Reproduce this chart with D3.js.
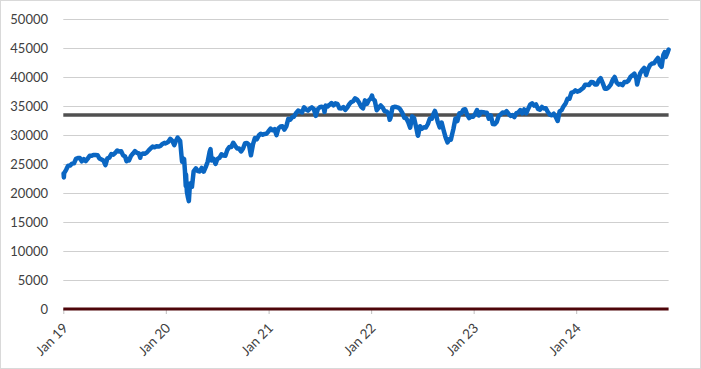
<!DOCTYPE html>
<html>
<head>
<meta charset="utf-8">
<script src="https://cdn.jsdelivr.net/npm/d3@7"></script>
<style>
  html, body { margin: 0; padding: 0; background: #fff; }
  svg { display: block; }
  text { font-family: Lato, "Liberation Sans", sans-serif; fill: #404040; }
</style>
</head>
<body>
<svg id="chart" width="701" height="369"></svg>
<script>
// ---- DATA ----
const dates = [
"2019-01-02","2019-01-03","2019-01-04","2019-01-11","2019-01-18","2019-01-25","2019-02-01","2019-02-08","2019-02-15","2019-02-22",
"2019-03-01","2019-03-08","2019-03-15","2019-03-22","2019-03-29","2019-04-05","2019-04-12","2019-04-18","2019-04-26","2019-05-03",
"2019-05-10","2019-05-17","2019-05-24","2019-05-31","2019-06-07","2019-06-14","2019-06-21","2019-06-28","2019-07-05","2019-07-12",
"2019-07-19","2019-07-26","2019-08-02","2019-08-09","2019-08-14","2019-08-16","2019-08-23","2019-08-30","2019-09-06","2019-09-13",
"2019-09-20","2019-09-27","2019-10-02","2019-10-04","2019-10-11","2019-10-18","2019-10-25","2019-11-01","2019-11-08","2019-11-15",
"2019-11-22","2019-11-29","2019-12-06","2019-12-13","2019-12-20","2019-12-27","2019-12-31",
"2020-01-03","2020-01-10","2020-01-17","2020-01-24","2020-01-31","2020-02-07","2020-02-12","2020-02-14","2020-02-21","2020-02-27",
"2020-02-28","2020-03-06","2020-03-09","2020-03-12","2020-03-13","2020-03-16","2020-03-20","2020-03-23","2020-03-27","2020-04-03",
"2020-04-09","2020-04-17","2020-04-24","2020-05-01","2020-05-08","2020-05-15","2020-05-22","2020-05-29","2020-06-05","2020-06-08",
"2020-06-12","2020-06-19","2020-06-26","2020-07-02","2020-07-10","2020-07-17","2020-07-24","2020-07-31","2020-08-07","2020-08-14",
"2020-08-21","2020-08-28","2020-09-04","2020-09-11","2020-09-18","2020-09-25","2020-10-02","2020-10-09","2020-10-16","2020-10-23",
"2020-10-30","2020-11-06","2020-11-13","2020-11-20","2020-11-27","2020-12-04","2020-12-11","2020-12-18","2020-12-24","2020-12-31",
"2021-01-08","2021-01-15","2021-01-22","2021-01-29","2021-02-05","2021-02-12","2021-02-19","2021-02-26","2021-03-05","2021-03-12",
"2021-03-19","2021-03-26","2021-04-01","2021-04-09","2021-04-16","2021-04-23","2021-04-30","2021-05-07","2021-05-14","2021-05-21",
"2021-05-28","2021-06-04","2021-06-11","2021-06-18","2021-06-25","2021-07-02","2021-07-09","2021-07-16","2021-07-19","2021-07-23",
"2021-07-30","2021-08-06","2021-08-13","2021-08-20","2021-08-27","2021-09-03","2021-09-10","2021-09-17","2021-09-24","2021-10-01",
"2021-10-08","2021-10-15","2021-10-22","2021-10-29","2021-11-05","2021-11-12","2021-11-19","2021-11-26","2021-12-03","2021-12-10",
"2021-12-17","2021-12-23","2021-12-31",
"2022-01-04","2022-01-07","2022-01-14","2022-01-21","2022-01-28","2022-02-04","2022-02-11","2022-02-18","2022-02-25","2022-03-04",
"2022-03-08","2022-03-11","2022-03-18","2022-03-25","2022-04-01","2022-04-08","2022-04-14","2022-04-22","2022-04-29","2022-05-06",
"2022-05-13","2022-05-20","2022-05-27","2022-06-03","2022-06-10","2022-06-16","2022-06-17","2022-06-24","2022-07-01","2022-07-08",
"2022-07-15","2022-07-22","2022-07-29","2022-08-05","2022-08-12","2022-08-16","2022-08-19","2022-08-26","2022-09-02","2022-09-09",
"2022-09-16","2022-09-23","2022-09-30","2022-10-07","2022-10-12","2022-10-14","2022-10-21","2022-10-28","2022-11-04","2022-11-11",
"2022-11-18","2022-11-25","2022-12-02","2022-12-09","2022-12-16","2022-12-23","2022-12-30",
"2023-01-06","2023-01-13","2023-01-20","2023-01-27","2023-02-03","2023-02-10","2023-02-17","2023-02-24","2023-03-03","2023-03-10",
"2023-03-17","2023-03-24","2023-03-31","2023-04-06","2023-04-14","2023-04-21","2023-04-28","2023-05-05","2023-05-12","2023-05-19",
"2023-05-26","2023-06-02","2023-06-09","2023-06-16","2023-06-23","2023-06-30","2023-07-07","2023-07-14","2023-07-21","2023-07-28",
"2023-08-04","2023-08-11","2023-08-18","2023-08-25","2023-09-01","2023-09-08","2023-09-15","2023-09-22","2023-09-29","2023-10-06",
"2023-10-13","2023-10-20","2023-10-27","2023-11-03","2023-11-10","2023-11-17","2023-11-24","2023-12-01","2023-12-08","2023-12-15",
"2023-12-22","2023-12-29",
"2024-01-05","2024-01-12","2024-01-19","2024-01-26","2024-02-02","2024-02-09","2024-02-16","2024-02-23","2024-03-01","2024-03-08",
"2024-03-15","2024-03-22","2024-03-28","2024-04-05","2024-04-12","2024-04-19","2024-04-26","2024-05-03","2024-05-10","2024-05-17",
"2024-05-24","2024-05-31","2024-06-07","2024-06-14","2024-06-21","2024-06-28","2024-07-05","2024-07-12","2024-07-19","2024-07-26",
"2024-08-02","2024-08-05","2024-08-09","2024-08-16","2024-08-23","2024-08-30","2024-09-06","2024-09-13","2024-09-20","2024-09-27",
"2024-10-04","2024-10-11","2024-10-18","2024-10-25","2024-10-31","2024-11-01","2024-11-06","2024-11-08","2024-11-11","2024-11-15",
"2024-11-22","2024-11-25"
];
const values = [
23346,22686,23433,23996,24706,24737,25064,25106,25883,26031,
26026,25450,25849,25502,25929,26425,26412,26559,26543,26505,
25942,25764,25586,24815,25984,26090,26719,26600,26922,27332,
27154,27192,26485,26287,25479,25886,25629,26403,26797,27220,
26935,26820,26078,26573,26817,26770,26958,27347,27681,28005,
27876,28051,28015,28135,28455,28645,28538,
28634,28824,29348,28990,28256,29103,29551,29398,28992,25767,
25409,25865,23851,21200,23186,20189,19174,18592,21637,21053,
23719,24242,23775,23724,24331,23685,24465,25383,27111,27572,
25606,25871,25016,25827,26075,26672,26470,26428,27433,27931,
27930,28654,28133,27666,27657,27174,27683,28587,28606,28336,
26502,28323,29480,29263,29910,30218,30046,30179,30200,30606,
31098,30814,30997,29983,31148,31458,31494,30932,31496,32779,
32628,33072,33153,33801,34200,34043,33875,34778,34382,34208,
34529,34756,34480,33290,34434,34786,34870,34688,33962,35061,
34935,35208,35515,35120,35455,35369,34607,34584,34798,34326,
34746,35294,35677,35820,36328,36100,35602,34899,34580,35971,
35365,35950,36338,
36799,36231,35912,34265,34725,35089,34738,34079,34059,33614,
32632,32945,34754,34861,34818,34721,34451,33811,32977,32899,
32197,31262,33213,32900,31393,29927,29888,31501,31097,31338,
31289,31899,32845,32803,33761,34152,33707,32283,31318,32152,
30822,29590,28726,29297,29210,29635,31083,32861,32403,33748,
33746,34347,34430,33477,32920,33204,33147,
33631,34303,33375,33978,33926,33869,33827,32817,33391,31910,
31862,32238,33274,33485,33886,33809,34098,33674,33300,33427,
33093,33763,33877,34299,33727,34408,33734,34509,35228,35459,
35066,35281,34501,34347,34838,34577,34618,33964,33508,33408,
33670,33127,32418,34061,34283,34947,35390,36246,36248,37306,
37386,37690,
37466,37593,37863,38109,38654,38672,38628,39131,39087,38723,
38715,39476,39807,38904,37983,37986,38240,38676,39513,40004,
39070,38686,38799,38589,39150,39119,39376,40001,40288,40589,
39737,38703,39497,40660,41175,41563,40345,41394,42063,42313,
42353,42864,43276,42114,41763,42053,43729,43989,44293,43445,
44297,44736
];
const yTicks = [0,5000,10000,15000,20000,25000,30000,35000,40000,45000,50000];
const xTickLabels = ["Jan 19","Jan 20","Jan 21","Jan 22","Jan 23","Jan 24"];
const xTickDates = ["2019-01-01","2020-01-01","2021-01-01","2022-01-01","2023-01-01","2024-01-01"];
const refLevel = [33450];
const zeroLevel = [0];
const axisStart = "2019-01-01";

// ---- CHART ----
(function () {
const parse = d3.timeParse("%Y-%m-%d");
const data = dates.map((d, i) => ({date: parse(d), value: values[i]}));
const svg = d3.select("#chart");

const pLeft = 63.3, pRight = 668.6, pTop = 19, pBottom = 309;

const x = d3.scaleTime()
  .domain([parse(axisStart), data[data.length - 1].date])
  .range([pLeft, pRight]);
const y = d3.scaleLinear().domain([0, 50000]).range([pBottom, pTop]);

// chart border
svg.append("rect").attr("x", 0.5).attr("y", 0.5).attr("width", 700).attr("height", 368)
  .attr("fill", "#fff").attr("stroke", "#d9d9d9");

// gridlines
svg.append("g").selectAll("line").data(yTicks.filter(t => t !== 0)).join("line")
  .attr("x1", pLeft).attr("x2", pRight)
  .attr("y1", d => Math.round(y(d)) + 0.5).attr("y2", d => Math.round(y(d)) + 0.5)
  .attr("stroke", "#cfcfcf").attr("stroke-width", 1);

// y axis labels
const yAxis = d3.axisLeft(y).tickValues(yTicks).tickSize(0).tickPadding(0).tickFormat(d3.format("d"));
const gy = svg.append("g").attr("transform", `translate(${48},0)`).call(yAxis);
gy.select(".domain").remove();
gy.selectAll("text").style("font-size", "13px").attr("fill", "#404040").attr("dy", "0.35em");

// x axis ticks and labels
const xAxis = d3.axisBottom(x)
  .tickValues(xTickDates.map(parse))
  .tickSize(5).tickPadding(0)
  .tickFormat((d, i) => xTickLabels[i]);
const gx = svg.append("g").attr("transform", `translate(0,${pBottom})`).call(xAxis);
gx.select(".domain").remove();
gx.selectAll(".tick line").attr("stroke", "#bfbfbf");
gx.selectAll("text")
  .style("font-size", "13.5px").attr("fill", "#404040")
  .attr("text-anchor", "end")
  .attr("x", 0).attr("y", 0).attr("dy", 0)
  .attr("transform", "translate(5,20) rotate(-45)");

// zero line (dark red)
svg.append("g").selectAll("line").data(zeroLevel).join("line")
  .attr("x1", pLeft).attr("x2", pRight)
  .attr("y1", d => y(d)).attr("y2", d => y(d))
  .attr("stroke", "#4e0509").attr("stroke-width", 3);

// reference level line (gray)
svg.append("g").selectAll("line").data(refLevel).join("line")
  .attr("x1", pLeft).attr("x2", pRight)
  .attr("y1", d => y(d)).attr("y2", d => y(d))
  .attr("stroke", "#505050").attr("stroke-width", 3.5);

// series line
const line = d3.line().x(d => x(d.date)).y(d => y(d.value));
svg.append("path").datum(data)
  .attr("d", line)
  .attr("fill", "none")
  .attr("stroke", "#0a66c2")
  .attr("stroke-width", 4.5)
  .attr("stroke-linejoin", "round")
  .attr("stroke-linecap", "round");
})();
</script>
</body>
</html>
